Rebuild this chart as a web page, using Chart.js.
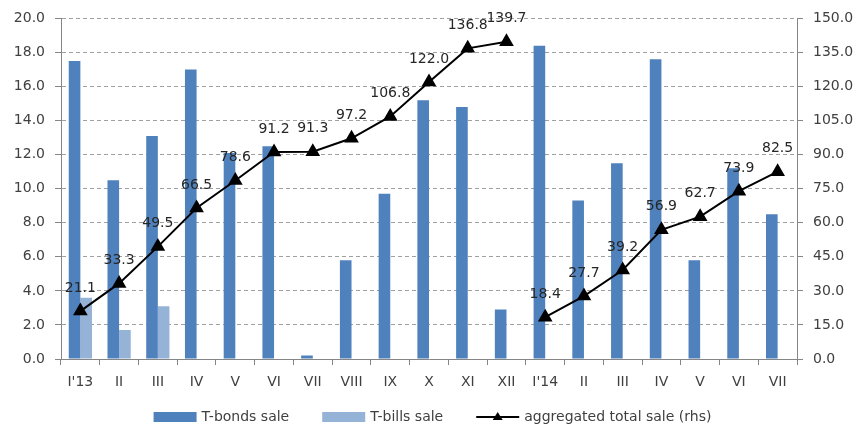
<!DOCTYPE html>
<html lang="en">

<head>
	<meta charset="UTF-8">
	<title>Government securities sales</title>
	<style>
		body {
			margin: 0;
			background: #ffffff;
		}

		#wrap {
			width: 865px;
			height: 428px;
			position: relative;
		}
	</style>
</head>

<body>
	<div id="wrap">
		<canvas id="chart"></canvas>
	</div>
	<script src="https://cdn.jsdelivr.net/npm/chart.js"></script>
	<script>
		const months = ["I'13", 'II', 'III', 'IV', 'V', 'VI', 'VII', 'VIII', 'IX', 'X', 'XI', 'XII',
			"I'14", 'II', 'III', 'IV', 'V', 'VI', 'VII'];
		const bondsSale = [17.5, 10.5, 13.1, 17.0, 12.1, 12.5, 0.2, 5.8, 9.7, 15.2, 14.8, 2.9,
			18.4, 9.3, 11.5, 17.6, 5.8, 11.2, 8.5];
		const billsSale = [3.6, 1.7, 3.1, null, null, null, null, null, null, null, null, null,
			null, null, null, null, null, null, null];
		const totalSale = [21.1, 33.3, 49.5, 66.5, 78.6, 91.2, 91.3, 97.2, 106.8, 122.0, 136.8, 139.7,
			18.4, 27.7, 39.2, 56.9, 62.7, 73.9, 82.5];

		const FONT = 'DejaVu Sans';
		const TEXT = '#404040';
		const AXIS = '#868686';

		// values printed above each point of the line
		const pointLabels = {
			id: 'pointLabels',
			afterDatasetsDraw(chart) {
				const ctx = chart.ctx;
				const meta = chart.getDatasetMeta(2);
				ctx.save();
				ctx.font = '14px "' + FONT + '"';
				ctx.fillStyle = '#262626';
				ctx.textAlign = 'center';
				ctx.textBaseline = 'middle';
				meta.data.forEach((pt, i) => {
					ctx.fillText(totalSale[i].toFixed(1), pt.x, pt.y - 23);
				});
				ctx.restore();
			}
		};

		// legend row under the axis: wide swatches, line entry gets a triangle marker
		const bottomLegend = {
			id: 'bottomLegend',
			afterDraw(chart) {
				const ctx = chart.ctx;
				const sw = 43, gap = 5, spacing = 33;
				const cy = 417;
				ctx.save();
				ctx.font = '14px "' + FONT + '"';
				ctx.textBaseline = 'middle';
				ctx.textAlign = 'left';
				const items = chart.data.datasets.map(ds => ({
					ds,
					w: sw + gap + ctx.measureText(ds.label).width
				}));
				const total = items.reduce((s, it) => s + it.w, 0) + spacing * (items.length - 1);
				let x = (chart.width - total) / 2;
				items.forEach(({ ds, w }) => {
					if (ds.type === 'line') {
						ctx.strokeStyle = '#000';
						ctx.lineWidth = 2;
						ctx.beginPath();
						ctx.moveTo(x, cy);
						ctx.lineTo(x + sw, cy);
						ctx.stroke();
						ctx.fillStyle = '#000';
						ctx.beginPath();
						ctx.moveTo(x + sw / 2, cy - 5);
						ctx.lineTo(x + sw / 2 + 5, cy + 3);
						ctx.lineTo(x + sw / 2 - 5, cy + 3);
						ctx.closePath();
						ctx.fill();
					} else {
						ctx.fillStyle = ds.backgroundColor;
						ctx.fillRect(x, cy - 5, sw, 10);
					}
					ctx.fillStyle = TEXT;
					ctx.fillText(ds.label, x + sw + gap, cy);
					x += w + spacing;
				});
				ctx.restore();
			}
		};

		Chart.defaults.font.family = FONT;
		Chart.defaults.font.size = 14;
		Chart.defaults.color = TEXT;

		new Chart(document.getElementById('chart'), {
			type: 'bar',
			data: {
				labels: months,
				datasets: [{
					label: 'T-bonds sale',
					data: bondsSale,
					backgroundColor: '#4F81BD',
					yAxisID: 'y',
					order: 2
				}, {
					label: 'T-bills sale',
					data: billsSale,
					backgroundColor: '#95B3D7',
					yAxisID: 'y',
					order: 3
				}, {
					type: 'line',
					label: 'aggregated total sale (rhs)',
					data: totalSale,
					yAxisID: 'y2',
					borderColor: '#000',
					borderWidth: 2,
					pointStyle: 'triangle',
					pointRadius: 6.5,
					pointBackgroundColor: '#000',
					pointBorderColor: '#000',
					tension: 0,
					order: 1,
					// the running total restarts each January, so no segment joins the years
					segment: {
						borderColor: c => months[c.p1DataIndex].includes("'") ? 'rgba(0,0,0,0)' : '#000'
					}
				}]
			},
			options: {
				responsive: true,
				maintainAspectRatio: false,
				animation: false,
				layout: {
					padding: { top: 15, left: 0, right: 0, bottom: 39 }
				},
				datasets: {
					bar: {
						categoryPercentage: 0.6,
						barPercentage: 1.0
					}
				},
				plugins: {
					tooltip: { enabled: false },
					legend: { display: false }
				},
				scales: {
					x: {
						offset: true,
						grid: {
							offset: true,
							drawOnChartArea: false,
							tickLength: 6,
							color: AXIS
						},
						border: { color: AXIS },
						ticks: {
							padding: 9,
							maxRotation: 0,
							autoSkip: false
						},
						afterFit(scale) {
							scale.height = 30;
						}
					},
					y: {
						position: 'left',
						min: 0,
						max: 20,
						ticks: {
							stepSize: 2,
							padding: 10,
							callback: v => v.toFixed(1)
						},
						grid: {
							color: c => c.tick && c.tick.value === 0 ? 'rgba(0,0,0,0)' : '#a0a0a0',
							tickColor: AXIS,
							tickLength: 6,
							tickBorderDash: [],
							tickBorderDashOffset: 0
						},
						border: { color: AXIS, dash: [4, 3] },
						afterFit(scale) {
							scale.width = 61;
						}
					},
					y2: {
						position: 'right',
						min: 0,
						max: 150,
						ticks: {
							stepSize: 15,
							padding: 10,
							callback: v => v.toFixed(1)
						},
						grid: {
							drawOnChartArea: false,
							tickLength: 6,
							color: AXIS
						},
						border: { color: AXIS },
						afterFit(scale) {
							scale.width = 68;
						}
					}
				}
			},
			plugins: [pointLabels, bottomLegend]
		});
	</script>
</body>

</html>
